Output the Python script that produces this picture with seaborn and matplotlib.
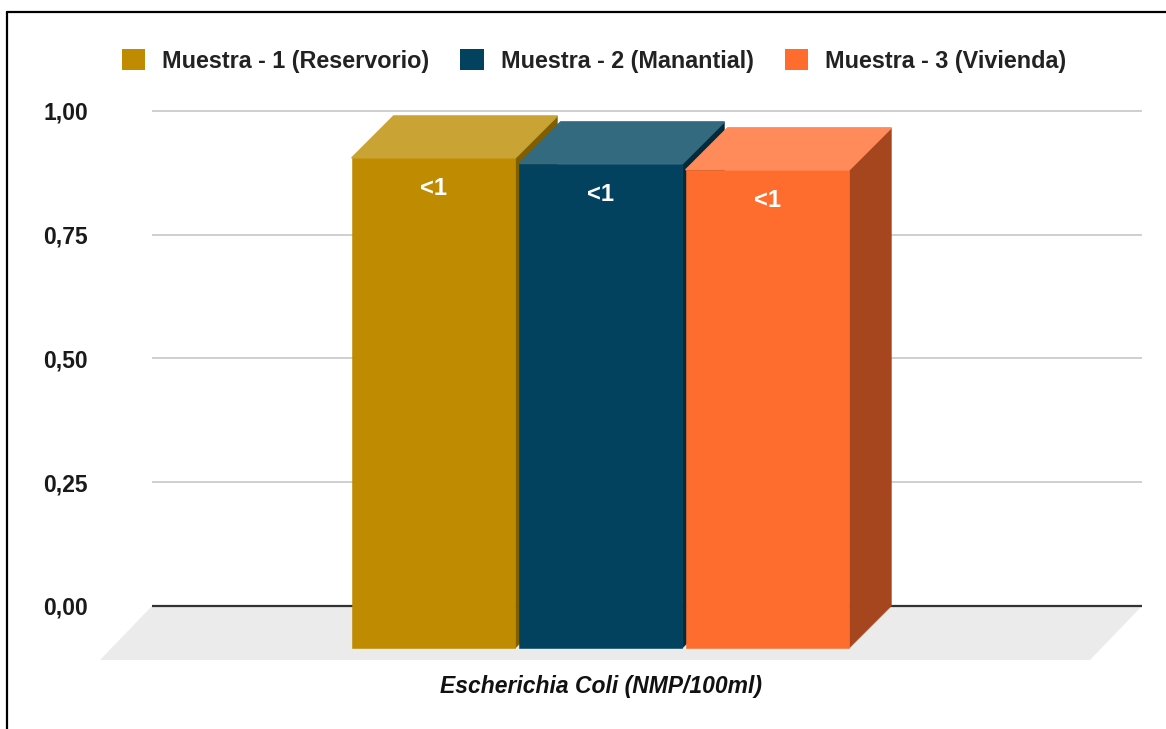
import matplotlib
matplotlib.use("Agg")
import matplotlib.pyplot as plt
from matplotlib.patches import Polygon, Patch
from matplotlib.lines import Line2D
import numpy as np
import pandas as pd
import seaborn as sns

# ---- data -------------------------------------------------------------
parametro = ["Escherichia Coli (NMP/100ml)"]
muestras = ["Muestra - 1 (Reservorio)", "Muestra - 2 (Manantial)", "Muestra - 3 (Vivienda)"]
valores = [0.99, 0.978, 0.966]
etiquetas = ["<1", "<1", "<1"]
y_ticks = [0.0, 0.25, 0.50, 0.75, 1.00]
y_tick_labels = ["0,00", "0,25", "0,50", "0,75", "1,00"]

# ---- colours (front, top, side) ---------------------------------------
front_colors = ["#BF8B00", "#02425E", "#FF6D2E"]
top_colors = ["#C9A333", "#346A7F", "#FF8A5A"]
side_colors = ["#7F5F00", "#002B3D", "#A6461F"]

df = pd.DataFrame({
    "parametro": parametro * len(muestras),
    "muestra": muestras,
    "valor": valores,
})

sns.set_theme(style="white")
plt.rcParams["font.family"] = ["Liberation Sans", "DejaVu Sans"]

W, H = 1166, 729
fig = plt.figure(figsize=(W / 100, H / 100), dpi=100)
fig.patch.set_facecolor("white")

# axes box in pixels (left, right, bottom, top)
L, R, B, T = 100, 1142, 660, 100
ax = fig.add_axes([L / W, 1 - B / H, (R - L) / W, (B - T) / H])

sns.barplot(data=df, x="parametro", y="valor", hue="muestra",
            hue_order=muestras, palette=front_colors, saturation=1,
            width=0.8, gap=0.02, linewidth=0, legend=False, ax=ax, zorder=5)

ax.set_xlim(-0.8663, 0.7976)
ax.set_ylim(-0.1091, 1.0222)
ax.set_xticks([])
ax.set_xlabel("")
ax.set_ylabel("")
for s in ax.spines.values():
    s.set_visible(False)
ax.patch.set_alpha(0)


def px_offset(dx_px, dy_px):
    """Convert a screen offset (pixels, y down) into data units."""
    inv = ax.transData.inverted()
    p0 = ax.transData.transform((0.0, 0.0))
    p1 = inv.transform(p0 + np.array([dx_px, -dy_px]))
    return p1[0], p1[1]


# bar depth (front face shifted left/down from back plane)
bdx, bdy = px_offset(-42, 42)
# floor depth
fdx, fdy = px_offset(-52, 54)

x0, x1 = ax.get_xlim()
y0 = ax.get_ylim()[0]

# floor
floor = Polygon([(x0 - fdx, 0), (x1, 0), (x1 + fdx, fdy), (x0, fdy)],
                closed=True, facecolor="#EBEBEB", edgecolor="none", zorder=0)
ax.add_patch(floor)

# gridlines on back wall
ax.hlines(y_ticks[1:], x0 - fdx, x1, colors="#CCCCCC", linewidth=1.3, zorder=1)
ax.hlines([0.0], x0 - fdx, x1, colors="#333333", linewidth=1.6, zorder=1)

ax.set_yticks(y_ticks)
ax.set_yticklabels(y_tick_labels, fontsize=16.5, fontweight="bold", color="#1a1a1a")
ax.tick_params(axis="y", length=0, pad=8.6)

# 3D faces for each bar
for i, cont in enumerate(ax.containers):
    for bar in cont:
        bx = bar.get_x()
        bw = bar.get_width()
        bh = bar.get_height()
        z = 5 + i
        # front face: shift the seaborn bar forward
        bar.set_x(bx + bdx)
        bar.set_y(bdy)
        bar.set_zorder(z + 0.2)
        bar.set_edgecolor(front_colors[i])
        bar.set_linewidth(0.4)
        top = Polygon([(bx + bdx, bh + bdy), (bx + bw + bdx, bh + bdy),
                       (bx + bw, bh), (bx, bh)], closed=True,
                      facecolor=top_colors[i], edgecolor=top_colors[i],
                      linewidth=1.0, zorder=z)
        side = Polygon([(bx + bw + bdx, bdy), (bx + bw + bdx, bh + bdy),
                        (bx + bw, bh), (bx + bw, 0)], closed=True,
                       facecolor=side_colors[i], edgecolor=side_colors[i],
                       linewidth=0.4, zorder=z - 0.1)
        ax.add_patch(top)
        ax.add_patch(side)
        ax.annotate(etiquetas[i], xy=(bx + bdx + bw / 2, bh + bdy),
                    xytext=(0, -22), textcoords="offset points",
                    ha="center", va="center", color="white",
                    fontsize=17, fontweight="bold", zorder=z + 1)

# axis title under the floor
fig.text(601 / W, 1 - 686 / H, parametro[0], ha="center", va="center",
         fontsize=16.5, fontweight="bold", fontstyle="italic", color="#111111")

# legend
handles = [Patch(facecolor=c, edgecolor="none") for c in front_colors]
leg = fig.legend(handles, muestras, loc="center", ncol=3, frameon=False,
                 bbox_to_anchor=(594 / W, 1 - 61 / H),
                 prop={"size": 16.8, "weight": "bold"},
                 handlelength=1.0, handleheight=1.0, handletextpad=0.73,
                 columnspacing=1.33)
for t in leg.get_texts():
    t.set_color("#222222")

# outer frame (top and left edges)
fig.add_artist(Line2D([7 / W, 7 / W], [0, 1 - 12 / H], transform=fig.transFigure,
                      color="black", linewidth=1.6))
fig.add_artist(Line2D([7 / W, 1], [1 - 12 / H, 1 - 12 / H], transform=fig.transFigure,
                      color="black", linewidth=1.6))

fig.savefig("out.png", dpi=100)
